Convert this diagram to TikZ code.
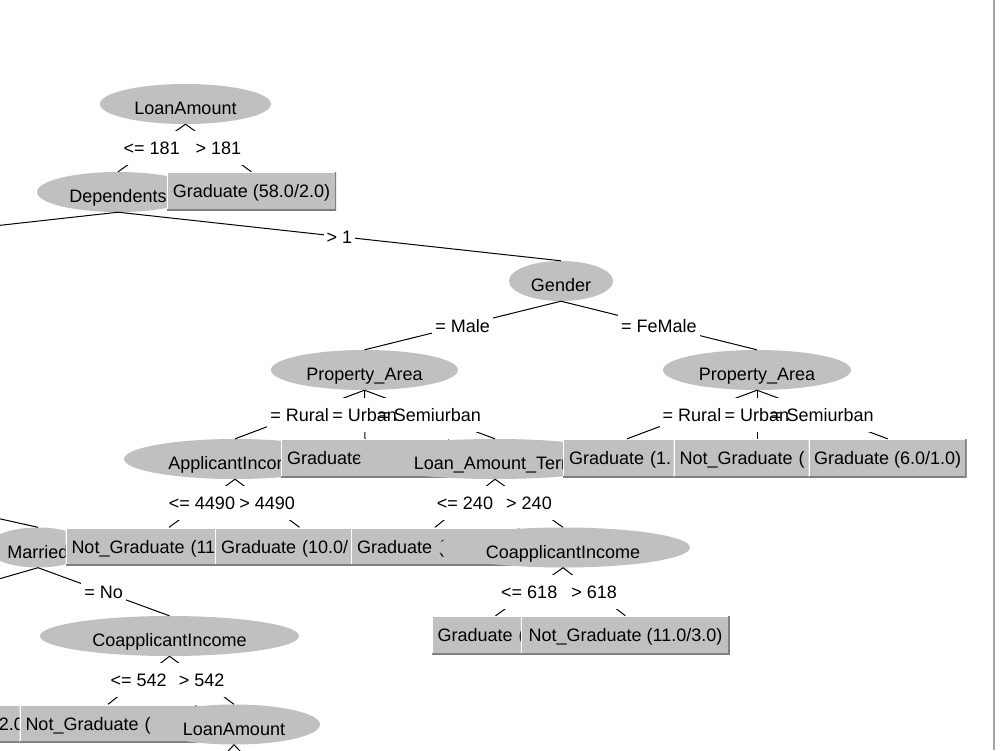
\documentclass[tikz,border=0pt]{standalone}
\usepackage{fontspec}
\setmainfont{Liberation Sans}
\usetikzlibrary{shapes.geometric}
\definecolor{ngray}{RGB}{192,192,192}
\definecolor{dgray}{RGB}{128,128,128}
\definecolor{fgray}{RGB}{165,165,165}
\tikzset{
  base/.style={font=\fontsize{18}{21}\selectfont, inner sep=0pt},
  attr/.style={base, ellipse, fill=ngray, minimum height=40pt, text height=21pt, text depth=0pt},
  leaf/.style={base, rectangle, fill=ngray, minimum height=38pt, text height=13pt, text depth=0pt,
    path picture={
      \draw[white, line width=2pt] (path picture bounding box.south west) |- (path picture bounding box.north east);
      \draw[dgray, line width=3pt] (path picture bounding box.north east) |- (path picture bounding box.south west);
    }},
  cut/.style={inner xsep=6pt, align=left},
  cutr/.style={inner xsep=6pt, align=right},
  lbl/.style={base, fill=white, minimum height=34pt, text height=13pt, text depth=0pt, inner xsep=3pt},
  lbltext/.style={base, text height=13pt, text depth=0pt},
  conn/.style={draw=black, line width=1pt}
}
\begin{document}
\begin{tikzpicture}[x=1pt, y=-1pt]
\useasboundingbox (0,0) rectangle (1000,750);
\fill[white] (0,0) rectangle (1000,750);
\clip (0,0) rectangle (1000,750);

% level 1
\node[attr, minimum width=171pt] (LA1) at (185.5,104) {LoanAmount};
% level 2
\node[attr, minimum width=162pt] (Dep) at (118,192) {Dependents};
\node[leaf, minimum width=169pt] (G58) at (251.5,191) {Graduate (58.0/2.0)};
% level 3
\node[attr, minimum width=104pt] (Gen) at (561,281) {Gender};
% level 4
\node[attr, minimum width=187pt] (PA1) at (364.5,370) {Property\_Area};
\node[attr, minimum width=188pt] (PA2) at (757,370) {Property\_Area};
% level 5
\node[attr, minimum width=222pt] (AI) at (235,459) {ApplicantIncome};
\node[leaf, cut, text width=156pt] (GU) at (365,458) {Graduate};
\node[attr, minimum width=272pt] (LAT) at (495,459) {Loan\_Amount\_Term};
\node[leaf, cut, text width=116pt] (G1) at (627,458) {Graduate (1.};
\node[leaf, cut, text width=155pt] (NG2) at (757,458) {Not\_Graduate (};
\node[leaf, minimum width=158pt] (G6) at (887.7,458) {Graduate (6.0/1.0)};
% level 6
\node[attr, minimum width=102pt] (Mar) at (38,547.5) {Married};
\node[leaf, cut, text width=195pt] (NG11) at (169,546.5) {Not\_Graduate (11};
\node[leaf, cut, text width=157pt] (G10) at (299.5,546.5) {Graduate (10.0/};
\node[leaf, cut, text width=156pt] (GL) at (435,546.5) {Graduate (};
\node[attr, minimum width=254pt] (CI1) at (563,547.5) {CoapplicantIncome};
% level 7
\node[attr, minimum width=259pt] (CI2) at (169.5,636) {CoapplicantIncome};
\node[leaf, cut, text width=116pt] (GC) at (495.5,635) {Graduate (};
\node[leaf, minimum width=209pt] (NG3) at (625.4,635) {Not\_Graduate (11.0/3.0)};
% level 8
\node[leaf, cutr, text width=118pt] (B2) at (-29,723.5) {2.0)};
\node[leaf, cut, text width=165pt] (NGc) at (108,723.5) {Not\_Graduate (};
\node[attr, minimum width=172pt] (LA2) at (234,724.5) {LoanAmount};

% off-page ends
\coordinate (DepL) at (-321,261);
\coordinate (MarP) at (-179,479);
\coordinate (MarL) at (-128,615.5);
\coordinate (LA2L) at (190,793.5);
\coordinate (LA2R) at (280,793.5);

% connectors
\draw[conn] (LA1.south) -- node[lbl] {<= 181} (Dep.north);
\draw[conn] (LA1.south) -- node[lbl] {> 181} (G58.north);
\draw[conn] (Dep.south) -- (DepL);
\draw[conn] (Dep.south) -- node[lbl] {> 1} (Gen.north);
\draw[conn] (Gen.south) -- node[lbl] {= Male} (PA1.north);
\draw[conn] (Gen.south) -- node[lbl] {= FeMale} (PA2.north);
% Property_Area branches: gaps first, texts on top (they overlap in the original)
\draw[conn] (PA1.south) -- node[lbl] (r1) {\phantom{= Rural}} (AI.north);
\draw[conn] (PA1.south) -- node[lbl] (u1) {\phantom{= Urban}} (GU.north);
\draw[conn] (PA1.south) -- node[lbl] (s1) {\phantom{= Semiurban}} (LAT.north);
\draw[conn] (PA2.south) -- node[lbl] (r2) {\phantom{= Rural}} (G1.north);
\draw[conn] (PA2.south) -- node[lbl] (u2) {\phantom{= Urban}} (NG2.north);
\draw[conn] (PA2.south) -- node[lbl] (s2) {\phantom{= Semiurban}} (G6.north);
\node[lbltext] (r1t) at (r1) {= Rural};
\node[lbltext] (u1t) at (u1) {= Urban};
\node[lbltext] (s1t) at (s1) {= Semiurban};
\node[lbltext] (r2t) at (r2) {= Rural};
\node[lbltext] (u2t) at (u2) {= Urban};
\node[lbltext] (s2t) at (s2) {= Semiurban};
\draw[conn] (AI.south) -- node[lbl] {<= 4490} (NG11.north);
\draw[conn] (AI.south) -- node[lbl] {> 4490} (G10.north);
\draw[conn] (LAT.south) -- node[lbl] {<= 240} (GL.north);
\draw[conn] (LAT.south) -- node[lbl] {> 240} (CI1.north);
\draw[conn] (MarP) -- (Mar.north);
\draw[conn] (Mar.south) -- (MarL);
\draw[conn] (Mar.south) -- node[lbl] {= No} (CI2.north);
\draw[conn] (CI1.south) -- node[lbl] {<= 618} (GC.north);
\draw[conn] (CI1.south) -- node[lbl] {> 618} (NG3.north);
\draw[conn] (CI2.south) -- node[lbl] {<= 542} (NGc.north);
\draw[conn] (CI2.south) -- node[lbl] {> 542} (LA2.north);
\draw[conn] (LA2.south) -- (LA2L);
\draw[conn] (LA2.south) -- (LA2R);

% window border
\draw[fgray, line width=1.5pt] (994,0) -- (994,750);
\end{tikzpicture}
\end{document}
